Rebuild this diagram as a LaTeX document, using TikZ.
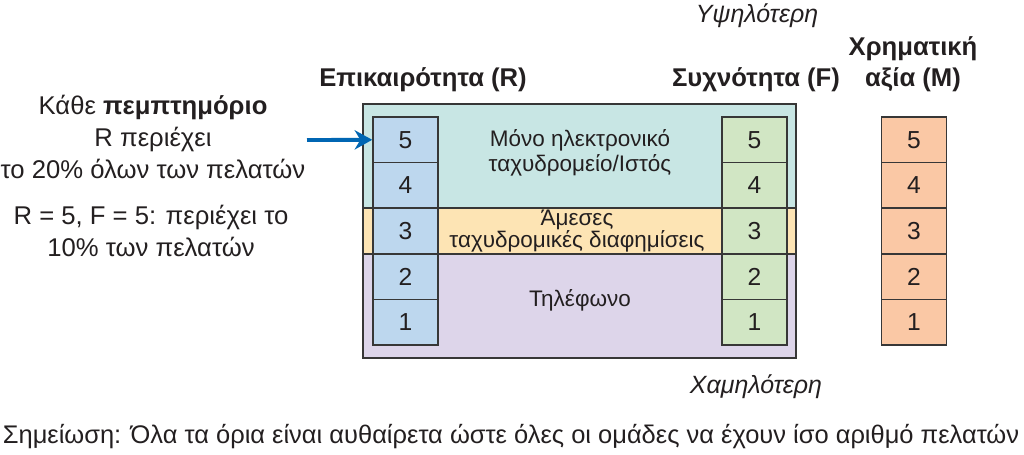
\documentclass[tikz,border=0pt]{standalone}
\usepackage{fontspec}
\setmainfont{Liberation Sans}
\usetikzlibrary{arrows.meta, positioning}

\definecolor{inkgray}{RGB}{35,31,32}
\definecolor{linegray}{RGB}{55,55,55}
\definecolor{bandteal}{RGB}{200,230,228}
\definecolor{bandorange}{RGB}{253,228,180}
\definecolor{bandpurple}{RGB}{221,213,234}
\definecolor{cellblue}{RGB}{189,215,238}
\definecolor{cellgreen}{RGB}{209,230,196}
\definecolor{cellorange}{RGB}{250,200,165}
\definecolor{arrowblue}{RGB}{0,102,179}

\begin{document}
\begin{tikzpicture}[x=0.02cm, y=-0.02cm, text=inkgray,
  cellbox/.style={draw=linegray, line width=0.9pt, minimum width=1.3cm, minimum height=0.912cm, inner sep=0pt, font=\fontsize{14}{16}\selectfont},
  headtext/.style={font=\fontsize{14.6}{17.5}\selectfont\bfseries, align=center},
  sidetext/.style={font=\fontsize{14.6}{18.4}\selectfont, align=center},
  bandtext/.style={font=\fontsize{12.8}{14.2}\selectfont, align=center},
  scaletext/.style={font=\fontsize{14.2}{16}\selectfont\itshape},
  frame/.style={draw=linegray, line width=1.2pt},
  pointer/.style={draw=arrowblue, line width=2.2pt, -{Stealth[length=10pt, width=11pt]}}]

\useasboundingbox (0,0) rectangle (1024,454);

% --- Channel bands ---
\fill[bandteal] (363,104) rectangle (796,208);
\fill[bandorange] (363,208) rectangle (796,254);
\fill[bandpurple] (363,254) rectangle (796,358);
\draw[frame] (363,208) -- (796,208);
\draw[frame] (363,254) -- (796,254);
\draw[frame] (363,104) rectangle (796,358);

\node[bandtext] (email) at (580,153) {Μόνο ηλεκτρονικό\\ταχυδρομείο/Ιστός};
\node[bandtext, font=\fontsize{12.8}{12.6}\selectfont] (mail) at (577,231) {Άμεσες\\ταχυδρομικές διαφημίσεις};
\node[bandtext] (phone) at (580,300) {Τηλέφωνο};

% --- Quintile columns ---
\foreach \q [count=\i from 0] in {5,4,3,2,1} {
  \node[cellbox, fill=cellblue] (r\q) at (405.5,139.8+45.6*\i) {\q};
  \node[cellbox, fill=cellgreen] (f\q) at (754.5,139.8+45.6*\i) {\q};
  \node[cellbox, fill=cellorange] (m\q) at (914,139.8+45.6*\i) {\q};
}

% --- Headings ---
\node[headtext] (rhead) at (423,80) {Επικαιρότητα (R)};
\node[headtext] (fhead) at (756,80) {Συχνότητα (F)};
\node[headtext] (mhead) at (913,64) {Χρηματική\\αξία (M)};
\node[scaletext] (high) at (757,16) {Υψηλότερη};
\node[scaletext] (low) at (756,387) {Χαμηλότερη};

% --- Side notes ---
\node[sidetext] (quint) at (153,137) {Κάθε \textbf{πεμπτημόριο}\\R περιέχει\\το 20\% όλων των πελατών};
\node[sidetext] (share) at (151,231) {R = 5, F = 5: περιέχει το\\10\% των πελατών};
\coordinate (arrowtail) at (307,140);
\draw[pointer] (arrowtail) -- (r5.west);

\node[font=\fontsize{14.5}{16}\selectfont] (note) at (511,437) {Σημείωση: Όλα τα όρια είναι αυθαίρετα ώστε όλες οι ομάδες να έχουν ίσο αριθμό πελατών};

\end{tikzpicture}
\end{document}
